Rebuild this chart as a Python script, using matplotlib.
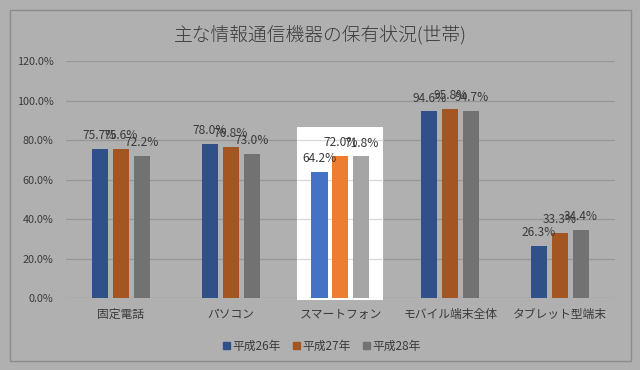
import matplotlib
matplotlib.use("Agg")
import matplotlib.pyplot as plt
import numpy as np
from matplotlib.patches import Rectangle

plt.rcParams['font.family'] = ['Noto Sans CJK JP', 'DejaVu Sans']

title = "主な情報通信機器の保有状況(世帯)"
categories = ["固定電話", "パソコン", "スマートフォン", "モバイル端末全体", "タブレット型端末"]
series_names = ["平成26年", "平成27年", "平成28年"]
h26 = [75.7, 78.0, 64.2, 94.6, 26.3]
h27 = [75.6, 76.8, 72.0, 95.8, 33.3]
h28 = [72.2, 73.0, 71.8, 94.7, 34.4]
yticks = [0, 20, 40, 60, 80, 100, 120]
highlight_index = 2

dim_colors = ["#2f5088", "#a35622", "#727272"]
hi_colors = ["#4472c4", "#ed7d31", "#a5a5a5"]
bg = "#b0b0b0"
grid_dim = "#969696"
grid_hi = "#d9d9d9"
text_c = "#3a3a3a"

fig = plt.figure(figsize=(6.4, 3.7), dpi=100, facecolor=bg)
ax = fig.add_axes([0.103, 0.1938, 0.858, 0.6405])
ax.set_facecolor("none")
ax.set_xlim(-0.5, len(categories) - 0.5)
ax.set_ylim(0, 120)

# chart border
fig.patches.append(Rectangle((10 / 640, 1 - 361 / 370), 621 / 640, 351 / 370,
                             transform=fig.transFigure, fill=False,
                             edgecolor="#8c8c8c", linewidth=1.0))

# dim gridlines
for t in yticks:
    ax.axhline(t, color=grid_dim, linewidth=0.9, zorder=0.5)

# highlight box
hx0, hx1 = highlight_index - 0.393, highlight_index + 0.384
box_top = 86.7
rect = Rectangle((hx0, -1.0), hx1 - hx0, box_top + 1.0, facecolor="white",
                 edgecolor="none", zorder=1, clip_on=False)
ax.add_patch(rect)
for t in yticks:
    if t <= box_top:
        ax.hlines(t, hx0, hx1, color=grid_hi, linewidth=0.9, zorder=1.5)

x = np.arange(len(categories))
bw = 0.146
step = 0.191
for i, vals in enumerate([h26, h27, h28]):
    xs = x + (i - 1) * step
    cols = [hi_colors[i] if j == highlight_index else dim_colors[i] for j in range(len(categories))]
    ax.bar(xs, vals, width=bw, color=cols, zorder=2)
    for xv, v in zip(xs, vals):
        ax.annotate(f"{v:.1f}%", (xv, v), xytext=(0, 5), textcoords="offset points",
                    ha="center", va="bottom", fontsize=8.6, color=text_c, zorder=3)

ax.set_yticks(yticks)
ax.set_yticklabels([f"{t:.1f}%" for t in yticks])
ax.set_xticks(x)
ax.set_xticklabels(categories)
ax.tick_params(axis="both", length=0, labelsize=7.8, labelcolor=text_c)
ax.tick_params(axis="y", pad=9)
ax.tick_params(axis="x", pad=7, labelsize=8.5)
for s in ax.spines.values():
    s.set_visible(False)

fig.text(0.5, 1 - 35 / 370, title, ha="center", va="center", fontsize=13.5,
         color=text_c, fontweight="light")

handles = [Rectangle((0, 0), 1, 1, color=c) for c in dim_colors]
fig.legend(handles, series_names, loc="center", bbox_to_anchor=(0.503, 1 - 346 / 370),
           ncol=3, frameon=False, fontsize=8.5, handlelength=0.6, handleheight=0.6,
           handletextpad=0.2, columnspacing=1.0, labelcolor=text_c)

fig.savefig("out.png", dpi=100, facecolor=bg)
